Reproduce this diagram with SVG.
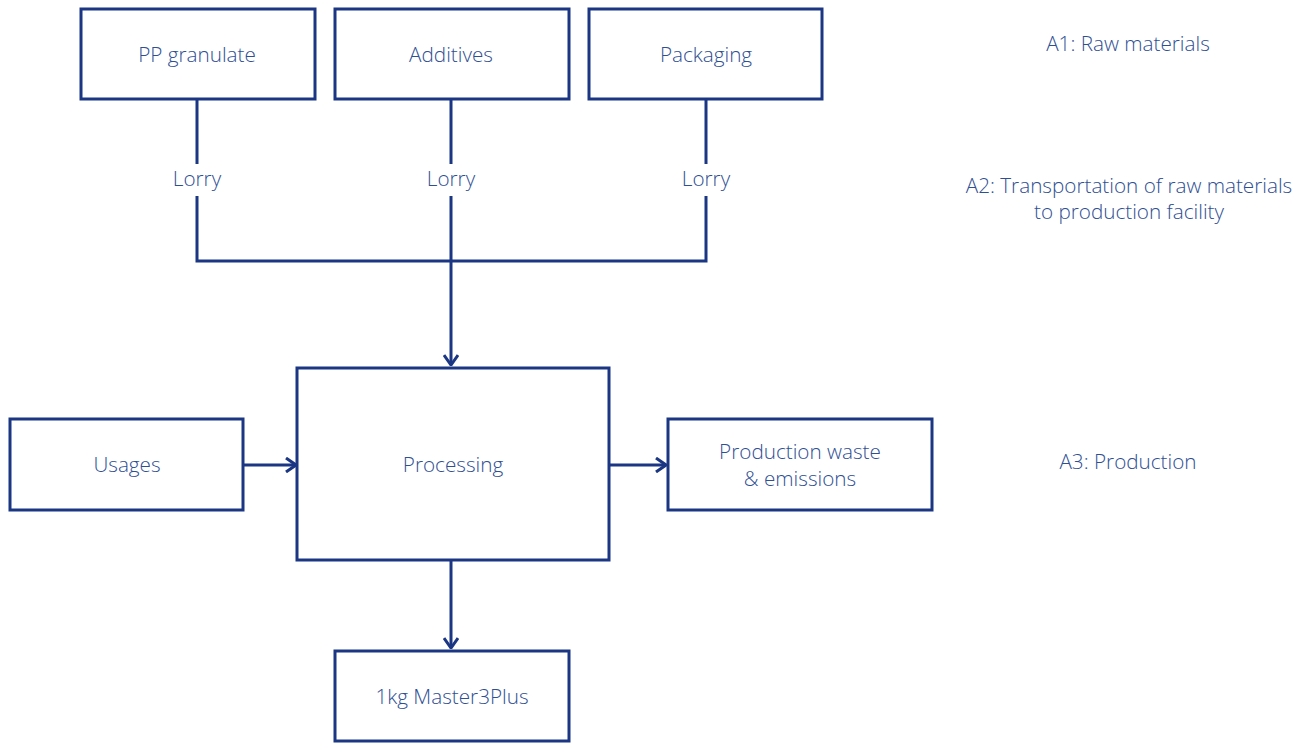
<svg xmlns="http://www.w3.org/2000/svg" width="1312" height="743" viewBox="0 0 1312 743">
<style>
.box{fill:#fff;stroke:#1b3784;stroke-width:3}
.ln{fill:none;stroke:#1b3784;stroke-width:3}
text{font-family:"Open Sans","Noto Sans",sans-serif;font-weight:300;font-size:20.7px;fill:#2f4f93;text-anchor:middle}
</style>
<defs>
<marker id="ah" viewBox="0 0 12 16" refX="11" refY="8" markerWidth="12" markerHeight="16" markerUnits="userSpaceOnUse" orient="auto">
<path d="M1,1 L11,8 L1,15" fill="none" stroke="#1b3784" stroke-width="3"/>
</marker>
</defs>
<rect width="1312" height="743" fill="#fff"/>
<g id="connectors">
<path class="ln" d="M197,99 V164 M197,196 V261 H706 V196 M706,164 V99"/>
<path class="ln" d="M451,99 V164 M451,196 V261"/>
<path class="ln" d="M451,261 V365" marker-end="url(#ah)"/>
<path class="ln" d="M243,465 H296" marker-end="url(#ah)"/>
<path class="ln" d="M609,465 H666" marker-end="url(#ah)"/>
<path class="ln" d="M451,560 V648" marker-end="url(#ah)"/>
<text x="197" y="186">Lorry</text>
<text x="451" y="186">Lorry</text>
<text x="706" y="186">Lorry</text>
</g>
<g id="pp"><rect class="box" x="81" y="9" width="234" height="90"/><text x="197" y="62">PP granulate</text></g>
<g id="additives"><rect class="box" x="335" y="9" width="234" height="90"/><text x="451" y="62">Additives</text></g>
<g id="packaging"><rect class="box" x="589" y="9" width="233" height="90"/><text x="706" y="62">Packaging</text></g>
<g id="processing"><rect class="box" x="297" y="368" width="312" height="192"/><text x="453" y="472">Processing</text></g>
<g id="usages"><rect class="box" x="10" y="419" width="233" height="91"/><text x="127" y="472">Usages</text></g>
<g id="waste"><rect class="box" x="668" y="419" width="264" height="91"/><text x="800" y="459">Production waste</text><text x="800" y="486">&amp; emissions</text></g>
<g id="master"><rect class="box" x="335" y="651" width="234" height="90"/><text x="452" y="704">1kg Master3Plus</text></g>
<g id="labels">
<text x="1128" y="51">A1: Raw materials</text>
<text x="1129" y="193">A2: Transportation of raw materials</text>
<text x="1129" y="219">to production facility</text>
<text x="1128" y="469">A3: Production</text>
</g>
</svg>
